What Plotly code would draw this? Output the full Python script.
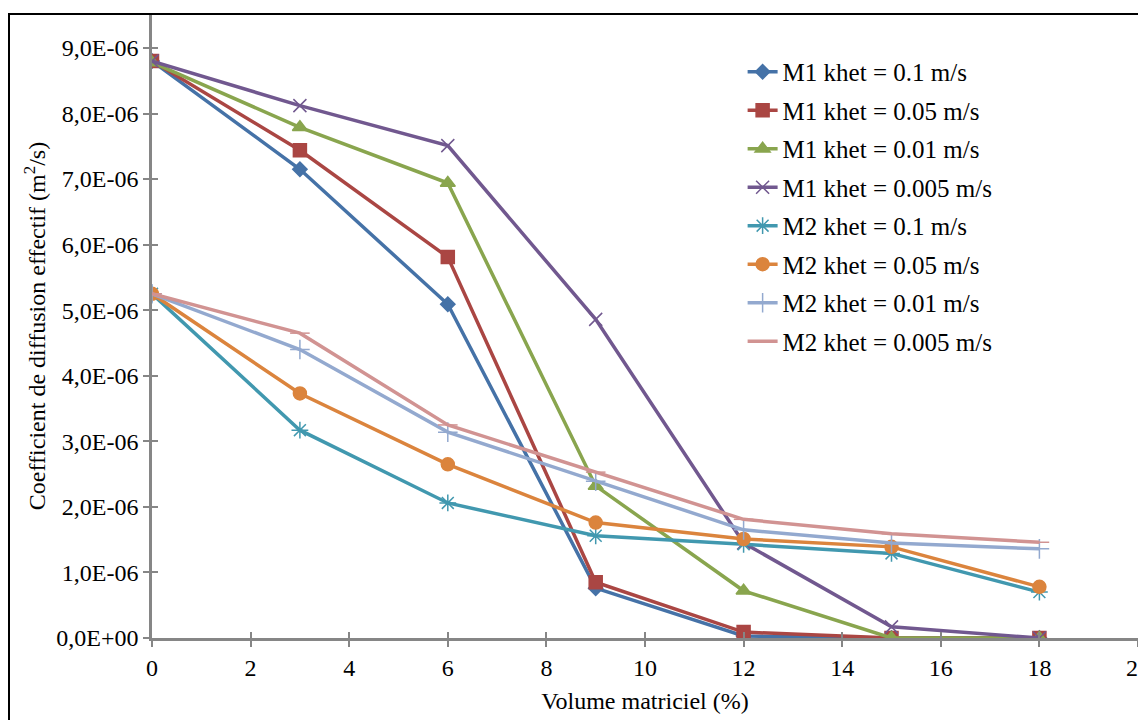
import plotly.graph_objects as go

x_vals = [0, 3, 6, 9, 12, 15, 18]

series_names = [
    "M1 khet = 0.1 m/s", "M1 khet = 0.05 m/s", "M1 khet = 0.01 m/s", "M1 khet = 0.005 m/s",
    "M2 khet = 0.1 m/s", "M2 khet = 0.05 m/s", "M2 khet = 0.01 m/s", "M2 khet = 0.005 m/s",
]

m1_k01 = [8.80e-6, 7.15e-6, 5.09e-6, 0.76e-6, 0.03e-6, 0.0, 0.0]
m1_k005 = [8.80e-6, 7.44e-6, 5.81e-6, 0.85e-6, 0.09e-6, 0.0, 0.0]
m1_k001 = [8.78e-6, 7.79e-6, 6.94e-6, 2.32e-6, 0.72e-6, 0.0, 0.0]
m1_k0005 = [8.80e-6, 8.12e-6, 7.51e-6, 4.86e-6, 1.45e-6, 0.17e-6, 0.0]
m2_k01 = [5.25e-6, 3.17e-6, 2.06e-6, 1.56e-6, 1.43e-6, 1.29e-6, 0.70e-6]
m2_k005 = [5.25e-6, 3.73e-6, 2.65e-6, 1.76e-6, 1.51e-6, 1.39e-6, 0.78e-6]
m2_k001 = [5.25e-6, 4.40e-6, 3.14e-6, 2.39e-6, 1.65e-6, 1.45e-6, 1.36e-6]
m2_k0005 = [5.25e-6, 4.65e-6, 3.25e-6, 2.53e-6, 1.81e-6, 1.59e-6, 1.46e-6]

series_values = [m1_k01, m1_k005, m1_k001, m1_k0005, m2_k01, m2_k005, m2_k001, m2_k0005]

colors = ["#4572A7", "#AA4643", "#89A54E", "#71588F", "#4198AF", "#DB843D", "#93A9CF", "#D19392"]
symbols = ["diamond", "square", "triangle-up", "x-thin-open", "asterisk-open", "circle", "cross-thin-open", "line-ew-open"]
sizes = [11, 13, 13, 13, 14, 13, 14, 14]

y_tickvals = [0, 1e-6, 2e-6, 3e-6, 4e-6, 5e-6, 6e-6, 7e-6, 8e-6, 9e-6]
y_ticktext = ["0,0E+00", "1,0E-06", "2,0E-06", "3,0E-06", "4,0E-06", "5,0E-06",
              "6,0E-06", "7,0E-06", "8,0E-06", "9,0E-06"]
x_tickvals = [0, 2, 4, 6, 8, 10, 12, 14, 16, 18, 20]

FONT = "'Times New Roman', 'Liberation Serif', Tinos, serif"

# page body has an 8px default margin; figure geometry compensates for it
L, T, PW, PH = 144, 6, 986, 624
FIG_W, FIG_H = 1138, 712
Y_MAX = 9.518e-6

fig = go.Figure()
for i, (name, vals) in enumerate(zip(series_names, series_values)):
    fig.add_trace(go.Scatter(
        x=x_vals, y=vals, name=name, mode="lines+markers",
        line=dict(color=colors[i], width=3.5),
        marker=dict(symbol=symbols[i], size=sizes[i], color=colors[i],
                    line=dict(color=colors[i], width=1.5)),
        legendgroup=f"g{i}",
    ))

# invisible helper trace so the overlay axes (inner half of the cross ticks) are rendered
fig.add_trace(go.Scatter(x=[0], y=[0], xaxis="x2", yaxis="y2", mode="markers",
                         marker=dict(opacity=0), showlegend=False, hoverinfo="skip"))

AX = "#868686"
fig.update_layout(
    width=FIG_W, height=FIG_H,
    margin=dict(l=L, r=FIG_W - L - PW, t=T, b=FIG_H - T - PH, autoexpand=False),
    paper_bgcolor="white", plot_bgcolor="white",
    font=dict(family=FONT, size=24, color="black"),
    showlegend=True,
    legend=dict(x=0.599, y=0.944, xanchor="left", yanchor="top",
                font=dict(family=FONT, size=25, color="black"),
                tracegroupgap=3, traceorder="grouped",
                bgcolor="rgba(0,0,0,0)", itemwidth=30),
    xaxis=dict(range=[0, 20], tickvals=x_tickvals, ticks="outside", ticklen=6,
               tickwidth=1.5, tickcolor=AX, showline=True, linecolor=AX, linewidth=2.5,
               showgrid=False, zeroline=False, automargin=False, ticklabeloverflow="allow",
               tickfont=dict(family=FONT, size=24),
               title=dict(text="Volume matriciel (%)", font=dict(family=FONT, size=24), standoff=13)),
    yaxis=dict(range=[0, Y_MAX], tickvals=y_tickvals, ticktext=y_ticktext, ticks="outside",
               ticklen=6, tickwidth=1.5, tickcolor=AX, showline=True, linecolor=AX, linewidth=2.5,
               showgrid=False, zeroline=False, automargin=False, ticklabeloverflow="allow",
               tickfont=dict(family=FONT, size=24),
               title=dict(text="Coefficient de diffusion effectif (m<sup>2</sup>/s)",
                          font=dict(family=FONT, size=24), standoff=4)),
    xaxis2=dict(range=[0, 20], tickvals=x_tickvals, ticks="inside", ticklen=6, tickwidth=1.5,
                tickcolor=AX, showticklabels=False, overlaying="x", anchor="y2",
                showgrid=False, zeroline=False, showline=False, side="bottom", automargin=False),
    yaxis2=dict(range=[0, Y_MAX], tickvals=y_tickvals, ticks="inside", ticklen=6, tickwidth=1.5,
                tickcolor=AX, showticklabels=False, overlaying="y", anchor="x2",
                showgrid=False, zeroline=False, showline=False, side="left", automargin=False),
    shapes=[
        dict(type="line", xref="paper", yref="paper",
             x0=(0 - L) / PW, x1=1.2, y0=1.0, y1=1.0,
             line=dict(color="black", width=2)),
        dict(type="line", xref="paper", yref="paper",
             x0=(1 - L) / PW, x1=(1 - L) / PW, y0=-0.2, y1=1.0,
             line=dict(color="black", width=2)),
    ],
)

fig.write_html("out.html")
